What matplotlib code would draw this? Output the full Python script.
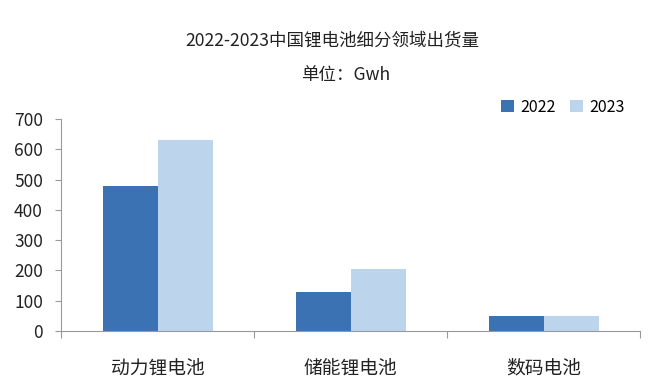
import matplotlib
matplotlib.use("Agg")
import matplotlib.pyplot as plt
import numpy as np

plt.rcParams["font.family"] = ["Noto Sans CJK SC", "DejaVu Sans"]

categories = ["动力锂电池", "储能锂电池", "数码电池"]
years = ["2022", "2023"]
v2022 = [480, 130, 48]
v2023 = [630, 205, 49]
colors = ["#3b72b4", "#bdd5ec"]

fig = plt.figure(figsize=(6.64, 3.87), dpi=100)
ax = fig.add_axes([0.0919, 0.1447, 0.872, 0.548])

x = np.arange(len(categories))
w = 0.285
ax.bar(x - w / 2, v2022, w, color=colors[0], label=years[0])
ax.bar(x + w / 2, v2023, w, color=colors[1], label=years[1])

ax.set_xlim(-0.5, len(categories) - 0.5)
ax.set_ylim(0, 700)
ax.set_yticks(range(0, 701, 100))
ax.set_xticks(x)
ax.set_xticklabels(categories, fontsize=13.5)
ax.set_xticks(np.arange(-0.5, len(categories), 1), minor=True)
ax.tick_params(axis="x", which="major", length=0, pad=19, colors="#222222")
ax.tick_params(axis="x", which="minor", length=5, color="#999999", width=0.8)
ax.tick_params(axis="y", length=4, color="#999999", width=0.8, labelsize=12.5,
               labelcolor="#222222", pad=9)

for s in ["top", "right"]:
    ax.spines[s].set_visible(False)
for s in ["left", "bottom"]:
    ax.spines[s].set_color("#999999")
    ax.spines[s].set_linewidth(0.8)

fig.text(0.5, 0.895, "2022-2023中国锂电池细分领域出货量", ha="center", va="center",
         fontsize=12.6, color="#222222")
fig.text(0.52, 0.805, "单位：Gwh", ha="center", va="center",
         fontsize=12.6, color="#222222")

ax.legend(loc="lower right", bbox_to_anchor=(0.985, 0.985), ncol=2, frameon=False,
          fontsize=11.5, handlelength=0.8, handleheight=0.8, handletextpad=0.4,
          columnspacing=0.9, borderaxespad=0)

fig.savefig("out.png", dpi=100)
